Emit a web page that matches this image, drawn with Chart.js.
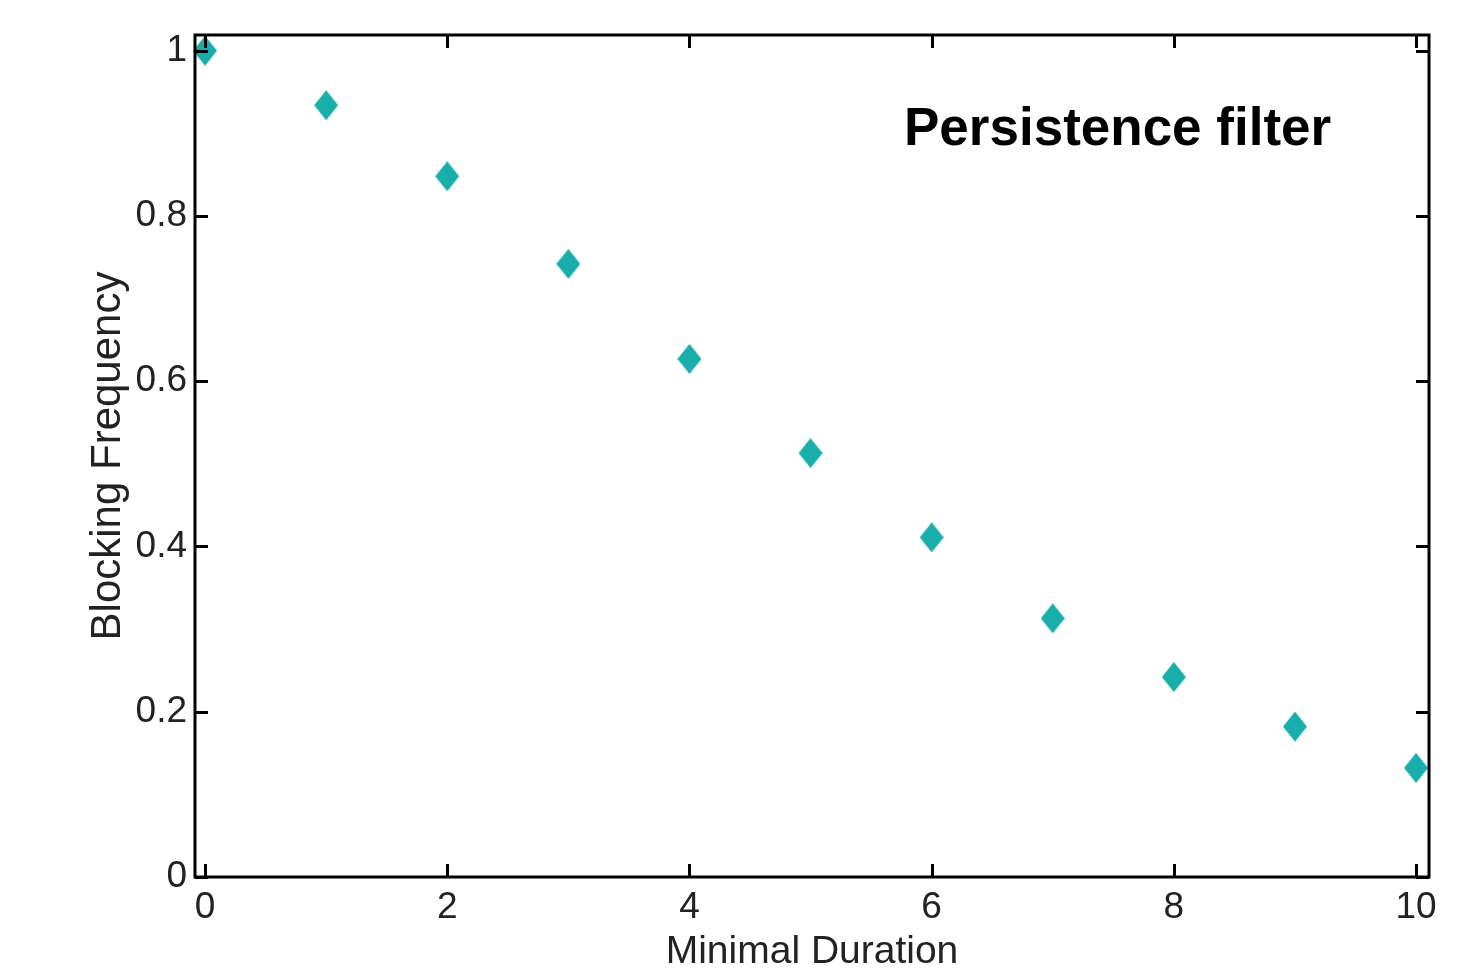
<!DOCTYPE html>
<html>
<head>
<meta charset="utf-8">
<script src="https://cdn.jsdelivr.net/npm/chart.js@4/dist/chart.umd.min.js"></script>
<style>
  html, body { margin: 0; padding: 0; background: #fff; }
  #wrap { width: 1482px; height: 972px; position: relative; }
</style>
</head>
<body>
<div id="wrap"><canvas id="c" width="1482" height="972"></canvas></div>
<script>
// ---- Data ----
const durations = [0, 1, 2, 3, 4, 5, 6, 7, 8, 9, 10];
const blockingFrequency = [1.000, 0.934, 0.848, 0.742, 0.627, 0.513, 0.411, 0.313, 0.242, 0.182, 0.132];
const xTickValues = [0, 2, 4, 6, 8, 10];
const yTickValues = [0, 0.2, 0.4, 0.6, 0.8, 1];
const yTickLabels = ['0', '0.2', '0.4', '0.6', '0.8', '1'];
const xAxisTitle = 'Minimal Duration';
const yAxisTitle = 'Blocking Frequency';
const annotationText = 'Persistence filter';

// ---- Styling ----
const markerColor = 'rgb(24,174,172)';
const textColor = '#222';
const fontFamily = '"Liberation Sans", Arial, Helvetica, sans-serif';

// diamond marker (taller than wide)
function makeDiamond(w, h, color) {
  const cv = document.createElement('canvas');
  cv.width = w; cv.height = h;
  const g = cv.getContext('2d');
  g.fillStyle = color;
  g.beginPath();
  g.moveTo(w / 2, 0);
  g.lineTo(w, h / 2);
  g.lineTo(w / 2, h);
  g.lineTo(0, h / 2);
  g.closePath();
  g.fill();
  return cv;
}
const diamond = makeDiamond(24, 30, markerColor);

const framePlugin = {
  id: 'frameTicks',
  afterDraw(chart) {
    const { ctx, chartArea: a, scales } = chart;
    const tl = 13;
    ctx.save();
    ctx.strokeStyle = '#000';
    ctx.lineWidth = 3;
    ctx.beginPath();
    xTickValues.forEach(v => {
      const px = Math.round(scales.x.getPixelForValue(v)) + 0.5;
      ctx.moveTo(px, a.bottom); ctx.lineTo(px, a.bottom - tl);
      ctx.moveTo(px, a.top); ctx.lineTo(px, a.top + tl);
    });
    yTickValues.forEach(v => {
      const py = Math.round(scales.y.getPixelForValue(v)) + 0.5;
      ctx.moveTo(a.left, py); ctx.lineTo(a.left + tl, py);
      ctx.moveTo(a.right, py); ctx.lineTo(a.right - tl, py);
    });
    ctx.stroke();
    ctx.lineWidth = 3;
    ctx.strokeRect(a.left, a.top, a.right - a.left, a.bottom - a.top);
    // annotation
    ctx.fillStyle = '#000';
    ctx.font = 'bold 53px ' + fontFamily;
    ctx.textBaseline = 'alphabetic';
    ctx.textAlign = 'left';
    ctx.fillText(annotationText, 904, 145);
    ctx.restore();
  }
};

new Chart(document.getElementById('c'), {
  type: 'scatter',
  data: {
    datasets: [{
      data: durations.map((x, i) => ({ x: x, y: blockingFrequency[i] })),
      pointStyle: diamond,
      pointRadius: 12,
      backgroundColor: markerColor,
      borderColor: markerColor,
      clip: false
    }]
  },
  options: {
    responsive: false,
    animation: false,
    devicePixelRatio: 1,
    layout: { padding: { top: 35, right: 53, left: 0, bottom: 0 } },
    plugins: { legend: { display: false }, tooltip: { enabled: false } },
    scales: {
      x: {
        type: 'linear',
        min: -0.083,
        max: 10.107,
        grid: { display: false, drawTicks: false },
        border: { display: false },
        afterBuildTicks: s => { s.ticks = xTickValues.map(v => ({ value: v })); },
        afterFit: s => { s.height = 95; },
        ticks: {
          color: textColor,
          font: { family: fontFamily, size: 37 },
          padding: 9,
          maxRotation: 0,
          callback: v => String(v)
        },
        title: {
          display: true,
          text: xAxisTitle,
          color: textColor,
          font: { family: fontFamily, size: 39, lineHeight: 1 },
          padding: { top: 0, bottom: 0 }
        }
      },
      y: {
        type: 'linear',
        min: 0,
        max: 1.019,
        grid: { display: false, drawTicks: false },
        border: { display: false },
        afterBuildTicks: s => { s.ticks = yTickValues.map(v => ({ value: v })); },
        afterFit: s => { s.width = 195; },
        ticks: {
          color: textColor,
          font: { family: fontFamily, size: 37 },
          padding: 8,
          callback: v => { const i = yTickValues.indexOf(v); return i >= 0 ? yTickLabels[i] : ''; }
        },
        title: {
          display: true,
          text: yAxisTitle,
          color: textColor,
          font: { family: fontFamily, size: 42, lineHeight: 1 },
          padding: { top: 87, bottom: 0 }
        }
      }
    }
  },
  plugins: [framePlugin]
});
</script>
</body>
</html>
